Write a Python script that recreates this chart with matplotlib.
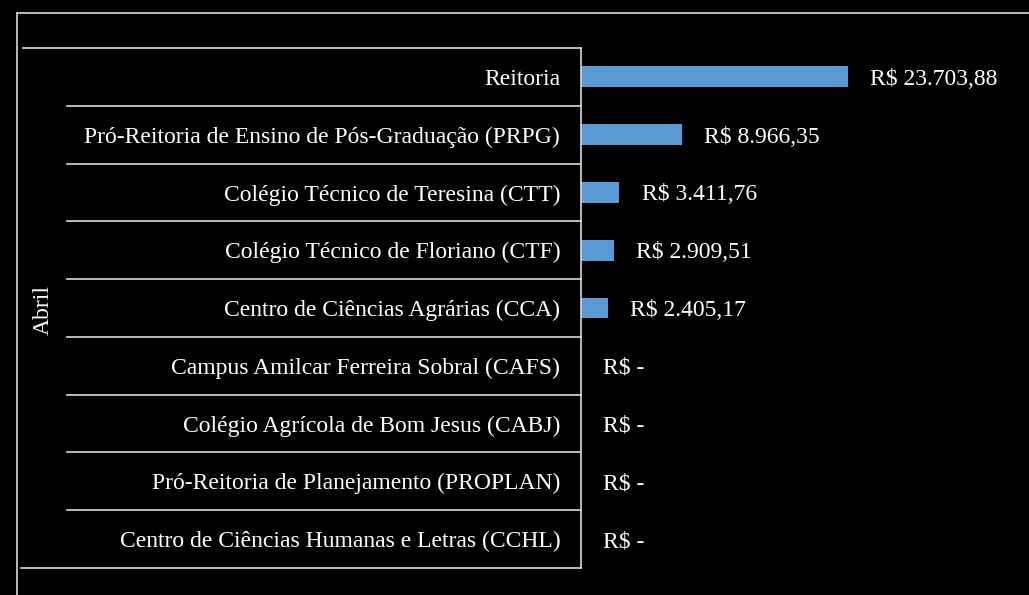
import matplotlib.pyplot as plt
from matplotlib.lines import Line2D
from matplotlib.transforms import blended_transform_factory

plt.rcParams['font.family'] = ['Liberation Serif', 'DejaVu Serif']

categorias = [
    'Reitoria',
    'Pró-Reitoria de Ensino de Pós-Graduação (PRPG)',
    'Colégio Técnico de Teresina (CTT)',
    'Colégio Técnico de Floriano (CTF)',
    'Centro de Ciências Agrárias (CCA)',
    'Campus Amilcar Ferreira Sobral (CAFS)',
    'Colégio Agrícola de Bom Jesus (CABJ)',
    'Pró-Reitoria de Planejamento (PROPLAN)',
    'Centro de Ciências Humanas e Letras (CCHL)',
]
valores = [23703.88, 8966.35, 3411.76, 2909.51, 2405.17, 0, 0, 0, 0]
grupo = 'Abril'


def formata_real(v):
    if v == 0:
        return 'R$ -'
    s = f'{v:,.2f}'.replace(',', 'X').replace('.', ',').replace('X', '.')
    return 'R$ ' + s


W, H = 1029, 595
fig = plt.figure(figsize=(W / 100, H / 100), dpi=100, facecolor='black')

# plot area in pixels
ax_l, ax_r, ax_t, ax_b = 581, 1010, 48, 568
ax = fig.add_axes([ax_l / W, 1 - ax_b / H, (ax_r - ax_l) / W, (ax_b - ax_t) / H])
ax.set_facecolor('black')

y = list(range(len(categorias)))
ax.barh(y, valores, height=0.36, color='#5B9BD5')
ax.set_ylim(len(categorias) - 0.5, -0.5)
ax.set_xlim(0, 38100)

for sp in ['top', 'right', 'bottom']:
    ax.spines[sp].set_visible(False)
ax.spines['left'].set_color('#d9d9d9')
ax.spines['left'].set_linewidth(1.2)
ax.xaxis.set_visible(False)

ax.set_yticks(y)
ax.set_yticklabels(categorias, fontsize=17, color='white', va='center_baseline')
ax.tick_params(axis='y', length=0, pad=15)

# value labels
for i, v in enumerate(valores):
    ax.annotate(formata_real(v), (v, i), xytext=(16, 0), textcoords='offset points',
                va='center_baseline', ha='left', fontsize=17, color='white')

# separators of the category table
ax_w = ax_r - ax_l
trans = blended_transform_factory(ax.transAxes, ax.transData)
for k in range(1, len(categorias)):
    ax.plot([-(ax_l - 67) / ax_w, 0], [k - 0.5, k - 0.5], transform=trans,
            color='#d9d9d9', lw=1.2, clip_on=False)
for yy, x0 in [(-0.5, 23), (len(categorias) - 0.5, 21)]:
    ax.plot([-(ax_l - x0) / ax_w, 0], [yy, yy], transform=trans,
            color='#d9d9d9', lw=1.2, clip_on=False)

# group label
fig.text(43 / W, 1 - 310 / H, grupo, rotation=90, ha='center', va='center',
         fontsize=17, color='white')

# outer border (runs off the right and bottom edges)
fig.add_artist(Line2D([17 / W, 1], [1 - 13 / H, 1 - 13 / H], color='#d9d9d9', lw=1.2))
fig.add_artist(Line2D([17 / W, 17 / W], [0, 1 - 13 / H], color='#d9d9d9', lw=1.2))

fig.savefig('out.png', dpi=100, facecolor='black')
